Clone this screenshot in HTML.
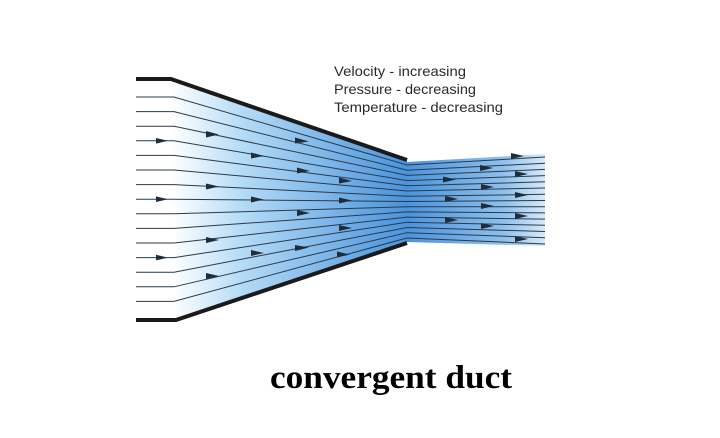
<!DOCTYPE html>
<html><head><meta charset="utf-8"><style>
html,body{margin:0;padding:0;background:#fff;width:720px;height:438px;overflow:hidden}
</style></head><body>
<svg width="720" height="438" viewBox="0 0 720 438" xmlns="http://www.w3.org/2000/svg">
<defs>
<linearGradient id="g1" x1="172" y1="0" x2="407" y2="0" gradientUnits="userSpaceOnUse">
<stop offset="0" stop-color="#ffffff"/><stop offset="0.3" stop-color="#b4dbf6"/><stop offset="1" stop-color="#4a93dc"/>
</linearGradient>
<linearGradient id="g2" x1="407" y1="0" x2="545" y2="0" gradientUnits="userSpaceOnUse">
<stop offset="0" stop-color="#4a93dc"/><stop offset="0.7" stop-color="#8fc0ec"/><stop offset="1" stop-color="#d8eaf8"/>
</linearGradient>
</defs>
<polygon points="172,79 407,160 407,242 177,320" fill="url(#g1)"/>
<polygon points="407,162 545,154 545,246 407,242" fill="url(#g2)"/>
<g fill="none" stroke="#2a3a4a" stroke-width="1">
<polyline points="136,97 174,97 407,165 545,157"/>
<polyline points="136,111.6 174,111.6 407,170.2 545,163.2"/>
<polyline points="136,126.2 174,126.2 407,175.4 545,169.4"/>
<polyline points="136,140.8 174,140.8 407,180.6 545,175.6"/>
<polyline points="136,155.4 174,155.4 407,185.8 545,181.8"/>
<polyline points="136,170 174,170 407,191 545,188"/>
<polyline points="136,184.6 174,184.6 407,196.3 545,194.3"/>
<polyline points="136,199.2 174,199.2 407,201.5 545,200.5"/>
<polyline points="136,213.8 174,213.8 407,206.7 545,206.7"/>
<polyline points="136,228.4 174,228.4 407,211.9 545,212.9"/>
<polyline points="136,243 174,243 407,217.1 545,219.1"/>
<polyline points="136,257.6 174,257.6 407,222.3 545,225.3"/>
<polyline points="136,272.2 174,272.2 407,227.5 545,231.5"/>
<polyline points="136,286.8 174,286.8 407,232.7 545,237.7"/>
<polyline points="136,301.4 174,301.4 407,238 545,244"/>
</g>
<g fill="none" stroke="#1a1a1a" stroke-width="4">
<polyline points="136,79 171,79 407,160"/>
<polyline points="136,320 176,320 407,243"/>
</g>
<g fill="#1f2d3a">
<polygon points="156,138 168,140.8 156,143.6"/>
<polygon points="156,196.4 168,199.2 156,202"/>
<polygon points="156,254.8 168,257.6 156,260.4"/>
<polygon points="206,131 219,134.5 206,137.5"/>
<polygon points="206,183.5 219,186.5 206,189.5"/>
<polygon points="206,237 219,240 206,243"/>
<polygon points="206,273 219,276 206,279"/>
<polygon points="251,152.5 264,156 251,158.5"/>
<polygon points="251,196.5 264,199.5 251,202.5"/>
<polygon points="251,250 264,253 251,256"/>
<polygon points="295,137.5 309,141.5 295,143.5"/>
<polygon points="297,167.5 310,171 297,173.5"/>
<polygon points="297,210 310,213 297,216"/>
<polygon points="295,245 309,247.5 295,251"/>
<polygon points="339,177.5 352,181 339,183.5"/>
<polygon points="339,197.5 352,200.5 339,203.5"/>
<polygon points="339,225 352,228 339,231"/>
<polygon points="337,251.5 350,254.5 337,257.5"/>
<polygon points="443,176.5 456,179.5 443,182.5"/>
<polygon points="445,196 458,199 445,202"/>
<polygon points="445,217 458,220 445,223"/>
<polygon points="480,165 493,168 480,171"/>
<polygon points="481,184 494,187 481,190"/>
<polygon points="481,203 494,206 481,209"/>
<polygon points="481,223 494,226 481,229"/>
<polygon points="511,153 524,156 511,159"/>
<polygon points="515,171 528,174 515,177"/>
<polygon points="515,192 528,195 515,198"/>
<polygon points="515,213 528,216 515,219"/>
<polygon points="515,236 528,239 515,242"/>
</g>
<g font-family="Liberation Sans, sans-serif" font-size="14" fill="#2a2a2a">
<text x="334" y="76" textLength="132" lengthAdjust="spacingAndGlyphs">Velocity - increasing</text>
<text x="334" y="94" textLength="142" lengthAdjust="spacingAndGlyphs">Pressure - decreasing</text>
<text x="334" y="112" textLength="169" lengthAdjust="spacingAndGlyphs">Temperature - decreasing</text>
</g>
<text x="270" y="388" textLength="242" lengthAdjust="spacingAndGlyphs" font-family="Liberation Serif, serif" font-weight="bold" font-size="33" fill="#000">convergent duct</text>
</svg>
</body></html>
